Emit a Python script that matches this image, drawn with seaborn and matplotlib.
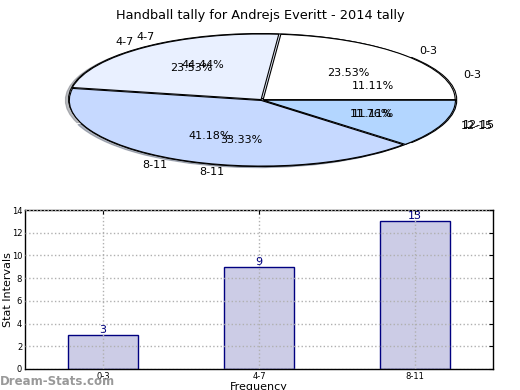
import matplotlib
matplotlib.use("Agg")
import matplotlib.pyplot as plt
import seaborn as sns

# data
intervals = ["0-3", "4-7", "8-11", "12-15"]
pie_outer = [4, 4, 7, 2]      # 23.53 / 23.53 / 41.18 / 11.76 %
pie_inner = [3, 12, 9, 3]     # 11.11 / 44.44 / 33.33 / 11.11 %
bar_labels = ["0-3", "4-7", "8-11"]
bar_counts = [3, 9, 13]

pie_colors = ["#ffffff", "#e9f0ff", "#c6d9ff", "#b3d6ff"]

sns.set_style("white")
plt.rcParams["font.family"] = ["DejaVu Sans"]
plt.rcParams["text.color"] = "black"
plt.rcParams["axes.labelcolor"] = "black"
plt.rcParams["xtick.color"] = "black"
plt.rcParams["ytick.color"] = "black"

fig = plt.figure(figsize=(5.2, 3.9), dpi=100)

# pie (squashed to look like a tilted disc)
ax1 = fig.add_axes([22 / 520, 1 - 182 / 390, 480 / 520, 164 / 390])
ax1.pie(pie_inner, labels=intervals, colors=pie_colors, autopct="%1.2f%%",
        startangle=0, counterclock=True,
        shadow=dict(ox=-0.012, oy=-0.012, shade=0.5),
        explode=[0.015, 0.015, 0.015, 0.015],
        wedgeprops=dict(edgecolor="black", linewidth=0.8),
        textprops=dict(fontsize=8, color="black"))
ax1.pie(pie_outer, labels=intervals, colors=pie_colors, autopct="%1.2f%%",
        startangle=0, counterclock=True,
        explode=[0.008, 0.008, 0.008, 0.008],
        wedgeprops=dict(edgecolor="black", linewidth=0.8),
        textprops=dict(fontsize=8, color="black"))
ax1.set_aspect("auto")
ax1.set_xlim(-1.25, 1.25)
ax1.set_ylim(-1.25, 1.25)
fig.text(0.5, 0.978, "Handball tally for Andrejs Everitt - 2014 tally",
         ha="center", va="top", fontsize=9.3, color="black")

# bar chart
ax2 = fig.add_axes([25 / 520, 21 / 390, 468 / 520, 159 / 390])
sns.barplot(x=bar_labels, y=bar_counts, ax=ax2, width=0.45,
            color="#ccccE6", edgecolor="navy", linewidth=1, saturation=1)
for i, v in enumerate(bar_counts):
    ax2.text(i, v, str(v), ha="center", va="bottom", color="navy", fontsize=8)
ax2.set_xlim(-0.5, 2.5)
ax2.set_ylim(0, 14)
ax2.set_yticks(range(0, 15, 2))
ax2.grid(True, linestyle=":", color="#b0b0b0", linewidth=1)
ax2.set_axisbelow(False)
ax2.tick_params(axis="both", direction="in", labelsize=6, length=3,
                top=True, right=True, pad=2)
ax2.set_xlabel("Frequency", fontsize=8, labelpad=1)
ax2.set_ylabel("Stat Intervals", fontsize=8)
ax2.yaxis.set_label_coords(-0.026, 0.5)
for s in ax2.spines.values():
    s.set_color("black")
    s.set_linewidth(1)

fig.text(0.0, 0.005, "Dream-Stats.com", fontsize=8.5, color="#999999",
         fontweight="bold", ha="left", va="bottom")

fig.savefig("out.png", dpi=100)
